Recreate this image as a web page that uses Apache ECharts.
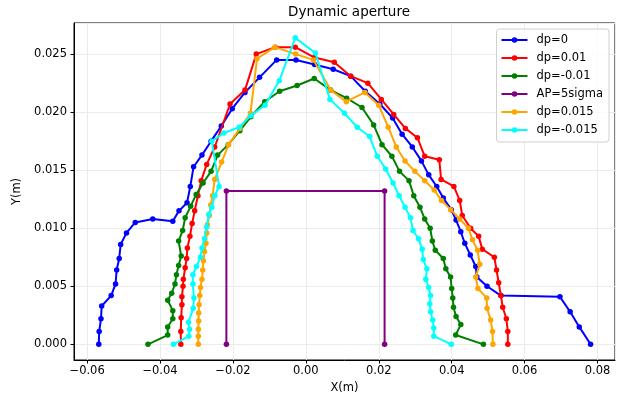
<!DOCTYPE html>
<html>
<head>
<meta charset="utf-8">
<script src="https://cdn.jsdelivr.net/npm/echarts@6/dist/echarts.min.js"></script>
<style>
  html, body { margin: 0; padding: 0; background: #fff; }
  #main { width: 619px; height: 399px; }
</style>
</head>
<body>
<div id="main"></div>
<script>
// dp = 0
var dp0X = [-0.0568, -0.0567, -0.0562, -0.0560, -0.0534, -0.0522, -0.0519, -0.0512, -0.0508, -0.0492, -0.0468, -0.0420, -0.0365, -0.0348, -0.0326, -0.0317, -0.0308, -0.0285, -0.0260, -0.0232, -0.0202, -0.0167, -0.0127, -0.0080, -0.0027, 0.0024, 0.0075, 0.0123, 0.0163, 0.0203, 0.0238, 0.0264, 0.0292, 0.0317, 0.0337, 0.0359, 0.0377, 0.0399, 0.0412, 0.0425, 0.0436, 0.0451, 0.0466, 0.0469, 0.0497, 0.0535, 0.0697, 0.0725, 0.0750, 0.0781];
var dp0Y = [0.0000, 0.0011, 0.0022, 0.0033, 0.0042, 0.0052, 0.0064, 0.0074, 0.0086, 0.0096, 0.0105, 0.0108, 0.0106, 0.0115, 0.0122, 0.0136, 0.0153, 0.0163, 0.0175, 0.0188, 0.0203, 0.0217, 0.0230, 0.0245, 0.0245, 0.0241, 0.0237, 0.0231, 0.0218, 0.0207, 0.0195, 0.0181, 0.0170, 0.0158, 0.0146, 0.0136, 0.0126, 0.0116, 0.0107, 0.0097, 0.0087, 0.0077, 0.0067, 0.0058, 0.0050, 0.0042, 0.0041, 0.0028, 0.0015, 0.0000];

// dp = 0.01
var dpP01X = [-0.0343, -0.0343, -0.0342, -0.0340, -0.0340, -0.0337, -0.0336, -0.0331, -0.0327, -0.0325, -0.0318, -0.0312, -0.0305, -0.0296, -0.0287, -0.0272, -0.0250, -0.0208, -0.0167, -0.0136, -0.0084, -0.0029, 0.0024, 0.0078, 0.0123, 0.0170, 0.0207, 0.0241, 0.0273, 0.0306, 0.0326, 0.0366, 0.0371, 0.0406, 0.0422, 0.0429, 0.0452, 0.0474, 0.0484, 0.0517, 0.0523, 0.0529, 0.0535, 0.0540, 0.0550, 0.0554, 0.0554];
var dpP01Y = [0.0000, 0.0011, 0.0023, 0.0034, 0.0041, 0.0050, 0.0056, 0.0066, 0.0074, 0.0083, 0.0093, 0.0104, 0.0115, 0.0128, 0.0141, 0.0155, 0.0170, 0.0207, 0.0219, 0.0250, 0.0256, 0.0256, 0.0247, 0.0243, 0.0231, 0.0225, 0.0211, 0.0198, 0.0186, 0.0178, 0.0162, 0.0159, 0.0142, 0.0136, 0.0124, 0.0111, 0.0100, 0.0093, 0.0082, 0.0075, 0.0064, 0.0053, 0.0042, 0.0032, 0.0022, 0.0011, 0.0000];

// dp = -0.01
var dpM01X = [-0.0433, -0.0379, -0.0379, -0.0365, -0.0365, -0.0379, -0.0368, -0.0359, -0.0355, -0.0349, -0.0342, -0.0349, -0.0338, -0.0331, -0.0316, -0.0301, -0.0282, -0.0260, -0.0242, -0.0213, -0.0181, -0.0151, -0.0113, -0.0072, -0.0024, 0.0023, 0.0068, 0.0112, 0.0154, 0.0186, 0.0209, 0.0236, 0.0257, 0.0283, 0.0296, 0.0313, 0.0326, 0.0341, 0.0347, 0.0355, 0.0377, 0.0384, 0.0397, 0.0400, 0.0403, 0.0405, 0.0412, 0.0425, 0.0411, 0.0487];
var dpM01Y = [0.0000, 0.0008, 0.0015, 0.0022, 0.0029, 0.0038, 0.0044, 0.0052, 0.0060, 0.0068, 0.0076, 0.0089, 0.0098, 0.0109, 0.0119, 0.0129, 0.0139, 0.0149, 0.0163, 0.0172, 0.0184, 0.0196, 0.0209, 0.0218, 0.0223, 0.0229, 0.0219, 0.0212, 0.0204, 0.0189, 0.0172, 0.0162, 0.0149, 0.0141, 0.0128, 0.0118, 0.0108, 0.0100, 0.0089, 0.0081, 0.0074, 0.0065, 0.0058, 0.0048, 0.0040, 0.0032, 0.0024, 0.0017, 0.0008, 0.0000];

// AP = 5 sigma
var apX = [-0.0218, -0.0218, 0.0216, 0.0216];
var apY = [0.0000, 0.0132, 0.0132, 0.0000];

// dp = 0.015
var dpP015X = [-0.0295, -0.0295, -0.0295, -0.0294, -0.0294, -0.0293, -0.0291, -0.0289, -0.0285, -0.0283, -0.0281, -0.0278, -0.0274, -0.0272, -0.0270, -0.0265, -0.0261, -0.0256, -0.0250, -0.0231, -0.0212, -0.0181, -0.0152, -0.0134, -0.0085, -0.0028, 0.0021, 0.0068, 0.0111, 0.0162, 0.0200, 0.0226, 0.0248, 0.0272, 0.0299, 0.0326, 0.0352, 0.0372, 0.0397, 0.0422, 0.0446, 0.0457, 0.0471, 0.0477, 0.0466, 0.0472, 0.0496, 0.0497, 0.0507, 0.0512, 0.0513];
var dpP015Y = [0.0000, 0.0007, 0.0013, 0.0020, 0.0027, 0.0034, 0.0042, 0.0049, 0.0056, 0.0064, 0.0072, 0.0080, 0.0087, 0.0096, 0.0103, 0.0111, 0.0120, 0.0128, 0.0142, 0.0157, 0.0172, 0.0186, 0.0199, 0.0246, 0.0256, 0.0250, 0.0245, 0.0219, 0.0209, 0.0217, 0.0206, 0.0187, 0.0170, 0.0158, 0.0149, 0.0141, 0.0133, 0.0124, 0.0116, 0.0108, 0.0100, 0.0090, 0.0081, 0.0069, 0.0058, 0.0048, 0.0040, 0.0031, 0.0021, 0.0011, 0.0000];

// dp = -0.015
var dpM015X = [-0.0363, -0.0321, -0.0319, -0.0322, -0.0309, -0.0307, -0.0310, -0.0310, -0.0300, -0.0289, -0.0285, -0.0278, -0.0272, -0.0266, -0.0258, -0.0250, -0.0238, -0.0258, -0.0225, -0.0183, -0.0151, -0.0112, -0.0073, -0.0029, 0.0026, 0.0066, 0.0106, 0.0141, 0.0175, 0.0196, 0.0219, 0.0239, 0.0256, 0.0272, 0.0287, 0.0294, 0.0309, 0.0319, 0.0322, 0.0332, 0.0329, 0.0337, 0.0342, 0.0340, 0.0342, 0.0348, 0.0351, 0.0351, 0.0399];
var dpM015Y = [0.0000, 0.0007, 0.0013, 0.0019, 0.0031, 0.0040, 0.0052, 0.0060, 0.0067, 0.0075, 0.0083, 0.0091, 0.0101, 0.0112, 0.0118, 0.0128, 0.0136, 0.0175, 0.0182, 0.0187, 0.0197, 0.0206, 0.0227, 0.0264, 0.0251, 0.0211, 0.0199, 0.0187, 0.0179, 0.0162, 0.0151, 0.0139, 0.0128, 0.0118, 0.0109, 0.0098, 0.0091, 0.0082, 0.0073, 0.0065, 0.0056, 0.0049, 0.0042, 0.0035, 0.0028, 0.0021, 0.0014, 0.0007, 0.0000];

var seriesNames = ['dp=0', 'dp=0.01', 'dp=-0.01', 'AP=5sigma', 'dp=0.015', 'dp=-0.015'];
var seriesColors = ['#0000ff', '#ff0000', '#008000', '#800080', '#ffa500', '#00ffff'];
var xs = [dp0X, dpP01X, dpM01X, apX, dpP015X, dpM015X];
var ys = [dp0Y, dpP01Y, dpM01Y, apY, dpP015Y, dpM015Y];

function pairs(x, y) {
  var out = [];
  for (var i = 0; i < x.length; i++) out.push([x[i], y[i]]);
  return out;
}

var font = 'DejaVu Sans';
var myChart = echarts.init(document.getElementById('main'));

myChart.setOption({
  animation: false,
  textStyle: { fontFamily: font },
  title: {
    text: 'Dynamic aperture',
    left: 344, top: 0, textAlign: 'center',
    textStyle: { fontFamily: font, fontSize: 13.5, fontWeight: 'normal', color: '#000' }
  },
  grid: {
    left: 74, right: 4, top: 23, bottom: 39,
    show: true, borderColor: '#000', borderWidth: 1, backgroundColor: 'transparent'
  },
  legend: {
    orient: 'vertical',
    right: 10, top: 29,
    itemWidth: 26, itemHeight: 7, itemGap: 4,
    padding: [4, 6, 5, 4],
    backgroundColor: 'rgba(255,255,255,0.8)',
    borderColor: '#d0d0d0', borderWidth: 1, borderRadius: 3,
    textStyle: { fontFamily: font, fontSize: 11.5, color: '#000', padding: [0, 0, 0, 4], lineHeight: 14 },
    data: seriesNames
  },
  xAxis: {
    type: 'value',
    min: -0.0636, max: 0.0848, splitNumber: 7,
    name: 'X(m)', nameLocation: 'middle', nameGap: 22,
    nameTextStyle: { fontFamily: font, fontSize: 11.5, color: '#000' },
    axisLine: { onZero: false, lineStyle: { color: '#000', width: 1 } },
    axisTick: { inside: false, length: 3.5, lineStyle: { color: '#000' } },
    axisLabel: {
      fontFamily: font, fontSize: 11.5, color: '#000', margin: 5,
      showMinLabel: false, showMaxLabel: false,
      formatter: function (v) { return v.toFixed(2).replace('-', '\u2212'); }
    },
    splitLine: { show: true, lineStyle: { color: '#ebebeb', width: 1 } }
  },
  yAxis: {
    type: 'value',
    min: -0.00135, max: 0.02768, splitNumber: 6,
    name: 'Y(m)', nameLocation: 'middle', nameGap: 50,
    nameTextStyle: { fontFamily: font, fontSize: 11.5, color: '#000' },
    axisLine: { onZero: false, lineStyle: { color: '#000', width: 1 } },
    axisTick: { inside: false, length: 3.5, lineStyle: { color: '#000' } },
    axisLabel: {
      fontFamily: font, fontSize: 11.5, color: '#000', margin: 7,
      showMinLabel: false, showMaxLabel: false,
      formatter: function (v) { return v.toFixed(3).replace('-', '\u2212'); }
    },
    splitLine: { show: true, lineStyle: { color: '#ebebeb', width: 1 } }
  },
  series: seriesNames.map(function (name, i) {
    return {
      name: name,
      type: 'line',
      data: pairs(xs[i], ys[i]),
      color: seriesColors[i],
      symbol: 'circle',
      symbolSize: 5.5,
      showSymbol: true,
      lineStyle: { width: 2, color: seriesColors[i] },
      itemStyle: { color: seriesColors[i] },
      z: 2 + i
    };
  })
});
</script>
</body>
</html>
